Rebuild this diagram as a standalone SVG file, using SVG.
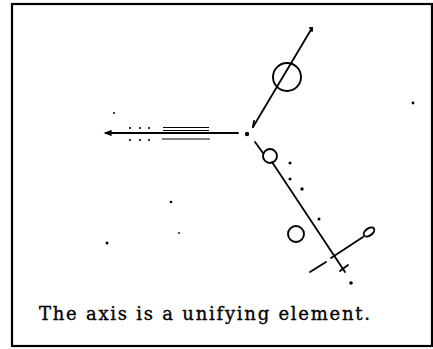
<svg xmlns="http://www.w3.org/2000/svg" width="433" height="349" viewBox="0 0 433 349">
<style>
.ln{stroke:#000;stroke-width:1.8;fill:none;stroke-linecap:round}
.th{stroke:#000;stroke-width:1.1;fill:none}
.ring{stroke:#000;stroke-width:1.9;fill:none}
.dot{fill:#000}
.cap{font-family:"DejaVu Serif","Liberation Serif",serif;font-size:18px;fill:#000;stroke:#000;stroke-width:0.35}
</style>
<rect width="433" height="349" fill="#fff"/>
<rect x="12" y="4" width="420" height="342" fill="none" stroke="#000" stroke-width="2.2"/>
<g id="upper-axis">
<line class="ln" x1="312" y1="28" x2="253" y2="127"/>
<path class="ln" d="M310 28 L312 28 L312 31"/>
<path class="ln" d="M253 127 L254 121"/>
<circle class="ring" cx="287" cy="77" r="14"/>
</g>
<g id="horizontal-axis">
<line class="ln" x1="106" y1="133" x2="238" y2="133"/>
<path class="ln" d="M111 131 L106 133 L111 135"/>
<line class="th" x1="163" y1="127.5" x2="209" y2="127.5"/>
<line class="th" x1="163" y1="130.5" x2="209" y2="130.5"/>
<line class="th" x1="162" y1="139" x2="210" y2="139"/>
<circle class="dot" cx="130" cy="128" r="1.1"/>
<circle class="dot" cx="140" cy="128" r="1.1"/>
<circle class="dot" cx="149" cy="128" r="1.1"/>
<circle class="dot" cx="130" cy="140" r="1.1"/>
<circle class="dot" cx="140" cy="140" r="1.1"/>
<circle class="dot" cx="149" cy="140" r="1.1"/>
</g>
<g id="center">
<circle class="dot" cx="247" cy="134" r="2.2"/>
</g>
<g id="lower-axis">
<line class="ln" x1="255" y1="142" x2="263" y2="153"/>
<circle class="ring" cx="270" cy="156" r="7"/>
<line class="ln" x1="272" y1="162" x2="345" y2="272"/>
<line class="ln" x1="340" y1="271" x2="348" y2="265"/>
<line class="ln" x1="310" y1="272" x2="326" y2="262"/>
<line class="ln" x1="331" y1="258" x2="363" y2="237"/>
<ellipse class="ring" cx="369" cy="232" rx="6" ry="3.5" transform="rotate(-35 369 232)"/>
<circle class="ring" cx="296" cy="234" r="8"/>
</g>
<g id="dots">
<circle class="dot" cx="290" cy="163" r="1.5"/>
<circle class="dot" cx="290" cy="179" r="1.5"/>
<circle class="dot" cx="302" cy="189" r="1.7"/>
<circle class="dot" cx="319" cy="219" r="1.5"/>
<circle class="dot" cx="351" cy="283" r="1.8"/>
<circle class="dot" cx="413" cy="103" r="1.4"/>
<circle class="dot" cx="171" cy="202" r="1.3"/>
<circle class="dot" cx="179" cy="233" r="0.9"/>
<circle class="dot" cx="107" cy="243" r="1.5"/>
<circle class="dot" cx="114" cy="113" r="1"/>
</g>
<text class="cap" x="39" y="320" textLength="331" lengthAdjust="spacing">The axis is a unifying element.</text>
</svg>
